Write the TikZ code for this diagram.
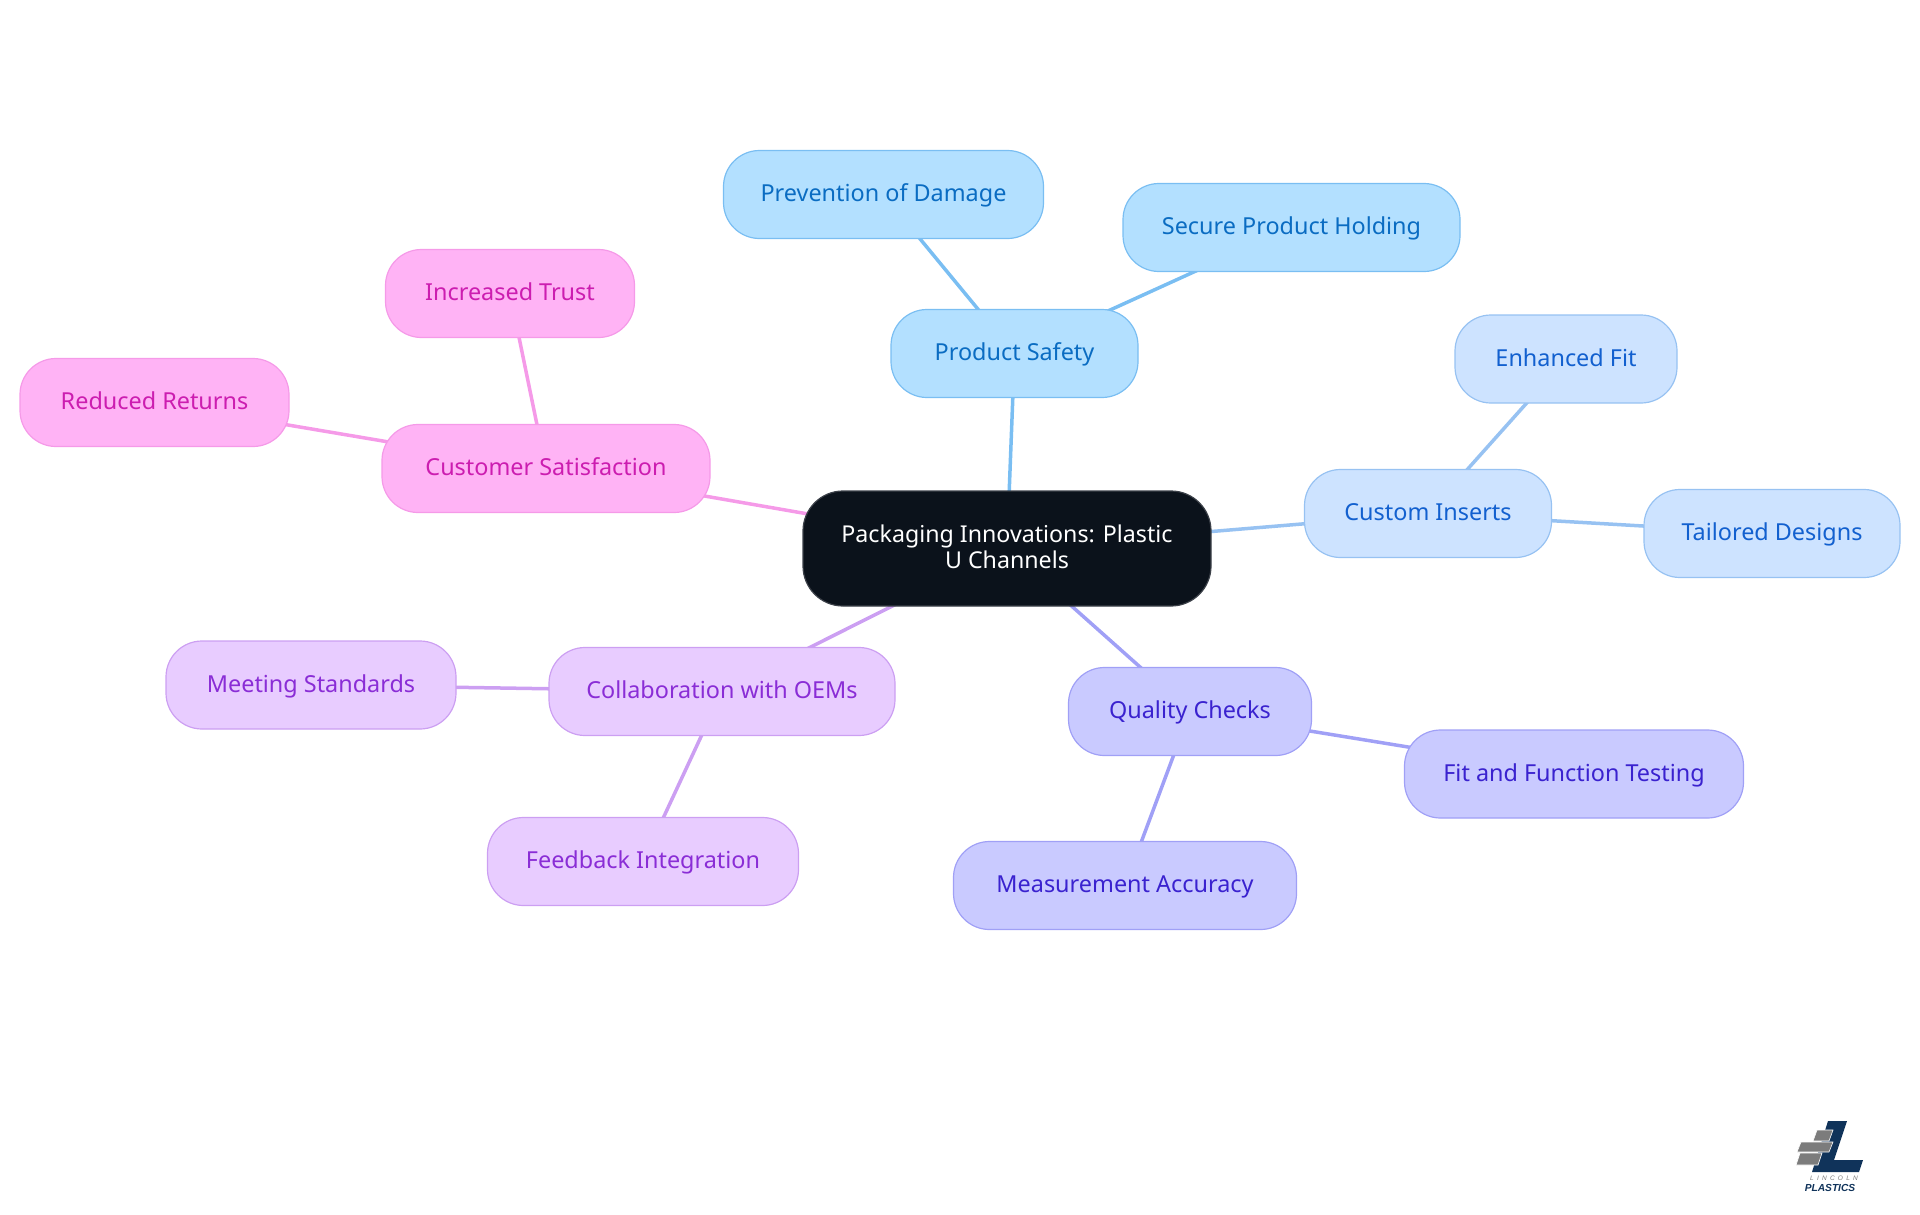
\documentclass[tikz,border=0pt]{standalone}
\usepackage{fontspec}
\setmainfont{Noto Sans}
\newfontfamily\logofont{Liberation Sans}
\usetikzlibrary{backgrounds}
\definecolor{rootfill}{HTML}{0B121B}
\definecolor{pinkfill}{HTML}{FFB3F5}
\definecolor{pinkline}{HTML}{F59AE8}
\definecolor{pinktext}{HTML}{CC1DB0}
\definecolor{skyfill}{HTML}{B3E0FF}
\definecolor{skyline}{HTML}{7ABEF2}
\definecolor{skytext}{HTML}{0A6CC2}
\definecolor{bluefill}{HTML}{CDE3FF}
\definecolor{blueline}{HTML}{97C2F2}
\definecolor{bluetext}{HTML}{1260CF}
\definecolor{indigofill}{HTML}{C9CAFF}
\definecolor{indigoline}{HTML}{A0A0F6}
\definecolor{indigotext}{HTML}{3A22CF}
\definecolor{purplefill}{HTML}{E8CCFF}
\definecolor{purpleline}{HTML}{CC9FF2}
\definecolor{purpletext}{HTML}{8A2DD6}
\definecolor{logonavy}{HTML}{10335A}
\definecolor{logogray}{HTML}{7C7C7C}
\tikzset{
    mapnode/.style={draw, rounded corners=36pt, minimum height=88pt, inner sep=0pt,
        font=\fontsize{23.4}{25}\selectfont, text height=18pt, text depth=4pt, line width=1.2pt},
    mapedge/.style={line width=3.5pt}
}
\begin{document}
\begin{tikzpicture}[x=1pt, y=-1pt]
    \useasboundingbox (0,0) rectangle (1920,1215);

    \node [fill=rootfill, draw=rootfill!80!white, rounded corners=40pt, line width=1.2pt,
        minimum width=408pt, minimum height=115pt, align=center, text=white, text depth=4pt,
        font=\fontsize{23.2}{25.5}\selectfont] (root) at (1007,548.5) {Packaging Innovations: Plastic\\U Channels};

    \begin{scope}[every node/.style={mapnode, fill=skyfill, draw=skyline, text=skytext}]
        \node [minimum width=247pt] (safety) at (1014.5,353.5) {Product Safety};
        \node [minimum width=320pt] (damage) at (883.5,194.5) {Prevention of Damage};
        \node [minimum width=337pt] (holding) at (1291.5,227.5) {Secure Product Holding};
    \end{scope}

    \begin{scope}[every node/.style={mapnode, fill=bluefill, draw=blueline, text=bluetext}]
        \node [minimum width=247pt] (inserts) at (1428,513.5) {Custom Inserts};
        \node [minimum width=222pt] (fit) at (1566,359) {Enhanced Fit};
        \node [minimum width=256pt] (designs) at (1772,533.5) {Tailored Designs};
    \end{scope}

    \begin{scope}[every node/.style={mapnode, fill=indigofill, draw=indigoline, text=indigotext}]
        \node [minimum width=243pt] (quality) at (1190,711.5) {Quality Checks};
        \node [minimum width=339pt] (testing) at (1574,774) {Fit and Function Testing};
        \node [minimum width=343pt] (accuracy) at (1125,885.5) {Measurement Accuracy};
    \end{scope}

    \begin{scope}[every node/.style={mapnode, fill=purplefill, draw=purpleline, text=purpletext}]
        \node [minimum width=346pt] (oems) at (722,691.5) {Collaboration with OEMs};
        \node [minimum width=290pt] (standards) at (311,685) {Meeting Standards};
        \node [minimum width=311pt] (feedback) at (643,861.5) {Feedback Integration};
    \end{scope}

    \begin{scope}[every node/.style={mapnode, fill=pinkfill, draw=pinkline, text=pinktext}]
        \node [minimum width=328pt] (satisfaction) at (546,468.5) {Customer Satisfaction};
        \node [minimum width=249pt] (trust) at (510,293.5) {Increased Trust};
        \node [minimum width=269pt] (returns) at (154.5,402.5) {Reduced Returns};
    \end{scope}

    \begin{scope}[on background layer, every edge/.style={draw, mapedge}]
        \path [-] (root.center) edge [skyline] (safety.center);
        \path [-] (safety.center) edge [skyline] (damage.center);
        \path [-] (safety.center) edge [skyline] (holding.center);
        \path [-] (root.center) edge [blueline] (inserts.center);
        \path [-] (inserts.center) edge [blueline] (fit.center);
        \path [-] (inserts.center) edge [blueline] (designs.center);
        \path [-] (root.center) edge [indigoline] (quality.center);
        \path [-] (quality.center) edge [indigoline] (testing.center);
        \path [-] (quality.center) edge [indigoline] (accuracy.center);
        \path [-] (root.center) edge [purpleline] (oems.center);
        \path [-] (oems.center) edge [purpleline] (standards.center);
        \path [-] (oems.center) edge [purpleline] (feedback.center);
        \path [-] (root.center) edge [pinkline] (satisfaction.center);
        \path [-] (satisfaction.center) edge [pinkline] (trust.center);
        \path [-] (satisfaction.center) edge [pinkline] (returns.center);
    \end{scope}

    \fill [logonavy] (1828,1121) -- (1847,1121) -- (1834,1160) -- (1863,1160) -- (1859,1172) -- (1812,1172) -- cycle;
    \begin{scope}[draw=white, line width=0.6pt]
        \filldraw [fill=logogray] (1817,1130) -- (1833,1130) -- (1829,1141) -- (1813,1141) -- cycle;
        \filldraw [fill=logogray] (1801,1142) -- (1833,1142) -- (1829,1152) -- (1797,1152) -- cycle;
        \filldraw [fill=logogray] (1800,1153) -- (1822,1153) -- (1818,1165) -- (1796,1165) -- cycle;
    \end{scope}
    \node [text=logogray, font=\logofont\fontsize{6.5}{7}\selectfont\itshape, inner sep=0pt] (lincoln) at (1834,1178) {L\,\,\,I\,\,\,N\,\,\,C\,\,\,O\,\,\,L\,\,\,N};
    \node [text=logonavy, font=\logofont\fontsize{10.2}{11}\selectfont\bfseries\itshape, inner sep=0pt] (plastics) at (1830,1188) {PLASTICS};
\end{tikzpicture}
\end{document}
